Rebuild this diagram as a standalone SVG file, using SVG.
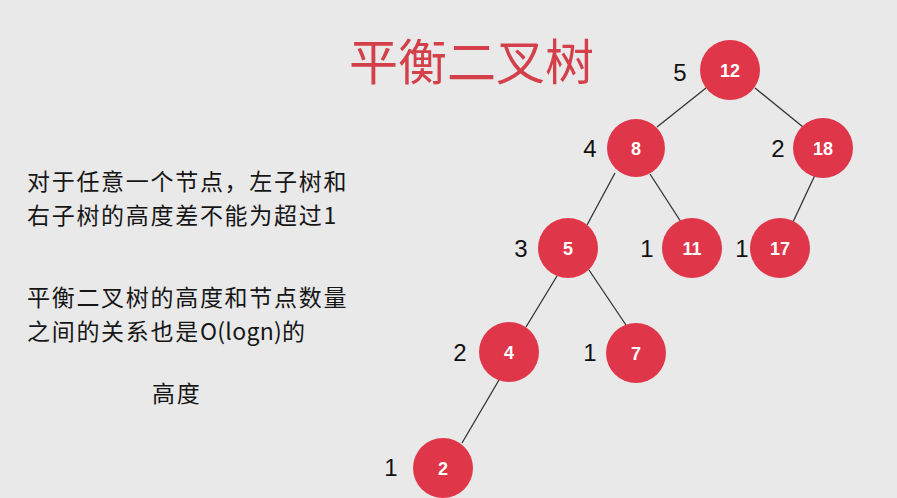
<svg xmlns="http://www.w3.org/2000/svg" width="897" height="498" viewBox="0 0 897 498">
<style>
.bg{fill:#e9e9e9}
.title{font-family:"Noto Sans CJK SC","Noto Sans",sans-serif;font-size:49px;fill:#d4404a}
.txt{font-family:"Noto Sans CJK SC","Noto Sans",sans-serif;font-size:23px;letter-spacing:1.7px;fill:#161616}
.lat{letter-spacing:0.3px}
.h{font-family:"Liberation Sans","Noto Sans",sans-serif;font-size:24px;fill:#111}
.node circle{fill:#e03649}
.node text{font-family:"Liberation Sans","Noto Sans",sans-serif;font-size:18px;font-weight:bold;fill:#fff}
.edge{stroke:#333;stroke-width:1.3;fill:none}
</style>
<rect class="bg" x="0" y="0" width="897" height="498"/>
<text class="title" x="349" y="58" dominant-baseline="central">平衡二叉树</text>
<g id="desc">
<text class="txt" x="27" y="180" dominant-baseline="central">对于任意一个节点，左子树和</text>
<text class="txt" x="27" y="214" dominant-baseline="central">右子树的高度差不能为超过1</text>
<text class="txt" x="27" y="296" dominant-baseline="central">平衡二叉树的高度和节点数量</text>
<text class="txt" x="27" y="330" dominant-baseline="central">之间的关系也是<tspan class="lat">O(logn)</tspan>的</text>
<text class="txt" x="152" y="392" dominant-baseline="central">高度</text>
</g>
<g id="connectors">
<line class="edge" x1="706" y1="88" x2="657" y2="127"/>
<line class="edge" x1="755" y1="88" x2="803" y2="127"/>
<line class="edge" x1="615" y1="173" x2="587" y2="225"/>
<line class="edge" x1="650" y1="174" x2="681" y2="222"/>
<line class="edge" x1="815" y1="175" x2="793" y2="222"/>
<line class="edge" x1="557" y1="276" x2="526" y2="327"/>
<line class="edge" x1="589" y1="270" x2="628" y2="328"/>
<line class="edge" x1="499" y1="380" x2="462" y2="443"/>
</g>
<g id="heights">
<text class="h" x="680" y="72" text-anchor="middle" dominant-baseline="central">5</text>
<text class="h" x="590" y="148" text-anchor="middle" dominant-baseline="central">4</text>
<text class="h" x="778" y="148" text-anchor="middle" dominant-baseline="central">2</text>
<text class="h" x="521" y="248" text-anchor="middle" dominant-baseline="central">3</text>
<text class="h" x="647" y="248" text-anchor="middle" dominant-baseline="central">1</text>
<text class="h" x="742" y="248" text-anchor="middle" dominant-baseline="central">1</text>
<text class="h" x="460" y="352" text-anchor="middle" dominant-baseline="central">2</text>
<text class="h" x="590" y="352" text-anchor="middle" dominant-baseline="central">1</text>
<text class="h" x="391" y="467" text-anchor="middle" dominant-baseline="central">1</text>
</g>
<g id="n12" class="node"><circle cx="730" cy="70" r="30"/><text x="730" y="71" text-anchor="middle" dominant-baseline="central">12</text></g>
<g id="n8" class="node"><circle cx="636" cy="148" r="29"/><text x="636" y="149" text-anchor="middle" dominant-baseline="central">8</text></g>
<g id="n18" class="node"><circle cx="823" cy="148" r="30"/><text x="823" y="149" text-anchor="middle" dominant-baseline="central">18</text></g>
<g id="n5" class="node"><circle cx="568" cy="248" r="30"/><text x="568" y="249" text-anchor="middle" dominant-baseline="central">5</text></g>
<g id="n11" class="node"><circle cx="692" cy="248" r="30"/><text x="692" y="249" text-anchor="middle" dominant-baseline="central">11</text></g>
<g id="n17" class="node"><circle cx="780" cy="248" r="30"/><text x="780" y="249" text-anchor="middle" dominant-baseline="central">17</text></g>
<g id="n4" class="node"><circle cx="509" cy="352" r="30"/><text x="509" y="353" text-anchor="middle" dominant-baseline="central">4</text></g>
<g id="n7" class="node"><circle cx="636" cy="353" r="30"/><text x="636" y="354" text-anchor="middle" dominant-baseline="central">7</text></g>
<g id="n2" class="node"><circle cx="443" cy="468" r="30"/><text x="443" y="469" text-anchor="middle" dominant-baseline="central">2</text></g>
</svg>
